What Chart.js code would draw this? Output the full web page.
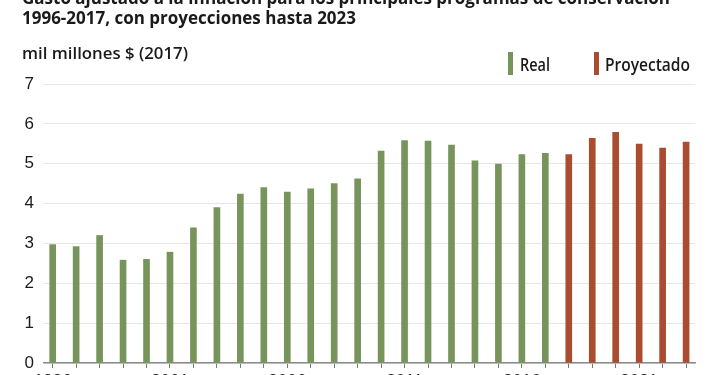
<!DOCTYPE html>
<html>
<head>
<meta charset="utf-8">
<script src="https://cdn.jsdelivr.net/npm/chart.js@4"></script>
<style>
  html, body { margin: 0; padding: 0; background: #fff; overflow: hidden; }
  #wrap { width: 710px; height: 400px; }
</style>
</head>
<body>
<div id="wrap"><canvas id="c" width="710" height="400"></canvas></div>
<script>
// ---- data ----
const realYears = [1996,1997,1998,1999,2000,2001,2002,2003,2004,2005,2006,2007,2008,2009,2010,2011,2012,2013,2014,2015,2016,2017];
const realValues = [2.97,2.92,3.20,2.58,2.60,2.78,3.39,3.90,4.24,4.40,4.29,4.37,4.50,4.62,5.32,5.58,5.57,5.47,5.07,4.99,5.23,5.26];
const projYears = [2018,2019,2020,2021,2022,2023];
const projValues = [5.23,5.64,5.79,5.49,5.39,5.54];
const xTickLabels = ['1996','2001','2006','2011','2016','2021'];
const titleLines = ['Gasto ajustado a la inflación para los principales programas de conservación', '1996-2017, con proyecciones hasta 2023'];
const axisTitle = 'mil millones $ (2017)';
const seriesNames = ['Real', 'Proyectado'];

const GREEN = '#77955b';
const RED = '#a94c2f';
const TEXT = '#1a1a1a';

function fitText(ctx, text, x, y, w, font, color) {
  ctx.save();
  ctx.font = font;
  const m = ctx.measureText(text).width;
  ctx.translate(x, y);
  ctx.scale(w / m, 1);
  ctx.fillStyle = color;
  ctx.textBaseline = 'alphabetic';
  ctx.textAlign = 'left';
  ctx.fillText(text, 0, 0);
  ctx.restore();
}

const decor = {
  id: 'decor',
  afterDraw(chart) {
    const ctx = chart.ctx;
    fitText(ctx, titleLines[0], 22, 4, 648, 'bold 17px "Open Sans"', TEXT);
    fitText(ctx, titleLines[1], 22, 23.5, 334, 'bold 17px "Open Sans"', TEXT);
    fitText(ctx, axisTitle, 22, 59, 166, '600 17px "Open Sans"', TEXT);
    // legend
    ctx.save();
    ctx.fillStyle = GREEN;
    ctx.fillRect(508, 52, 5, 23);
    ctx.fillStyle = RED;
    ctx.fillRect(594, 52, 5, 23);
    ctx.restore();
    fitText(ctx, seriesNames[0], 520, 71, 30, '600 18px "Open Sans"', TEXT);
    fitText(ctx, seriesNames[1], 605, 71, 85, '600 18px "Open Sans"', TEXT);
  }
};

const allYears = realYears.concat(projYears);

new Chart(document.getElementById('c'), {
  type: 'bar',
  data: {
    datasets: [
      { label: seriesNames[0], data: realYears.map((y, i) => ({ x: y, y: realValues[i] })), backgroundColor: GREEN, barThickness: 6, grouped: false, borderWidth: 0 },
      { label: seriesNames[1], data: projYears.map((y, i) => ({ x: y, y: projValues[i] })), backgroundColor: RED, barThickness: 6, grouped: false, borderWidth: 0 }
    ]
  },
  options: {
    responsive: false,
    animation: false,
    devicePixelRatio: 1,
    layout: { padding: { top: 84, right: 15, left: 0, bottom: 0 } },
    plugins: { legend: { display: false }, tooltip: { enabled: false }, title: { display: false } },
    scales: {
      x: {
        type: 'linear',
        offset: false,
        min: 1995.63,
        max: 2023.38,
        afterBuildTicks: (scale) => { scale.ticks = allYears.map(v => ({ value: v })); },
        afterFit: (scale) => { scale.height = 37; },
        ticks: {
          autoSkip: false,
          maxRotation: 0,
          padding: 3,
          color: TEXT,
          font: { family: '"Liberation Sans", Arial, sans-serif', size: 17 },
          callback: (v) => xTickLabels.includes(String(v)) ? String(v) : ''
        },
        grid: { offset: false, drawOnChartArea: false, drawTicks: true, tickLength: 5, color: '#777', lineWidth: 1 },
        border: { display: true, color: '#8c8c8c', width: 1.5 }
      },
      y: {
        min: 0,
        max: 7,
        afterFit: (scale) => { scale.width = 44; },
        ticks: {
          stepSize: 1,
          padding: 10,
          color: TEXT,
          font: { family: '"Liberation Sans", Arial, sans-serif', size: 17 }
        },
        grid: { color: '#e6e6e6', lineWidth: 1, drawTicks: false },
        border: { display: false }
      }
    }
  },
  plugins: [decor]
});
</script>
</body>
</html>
